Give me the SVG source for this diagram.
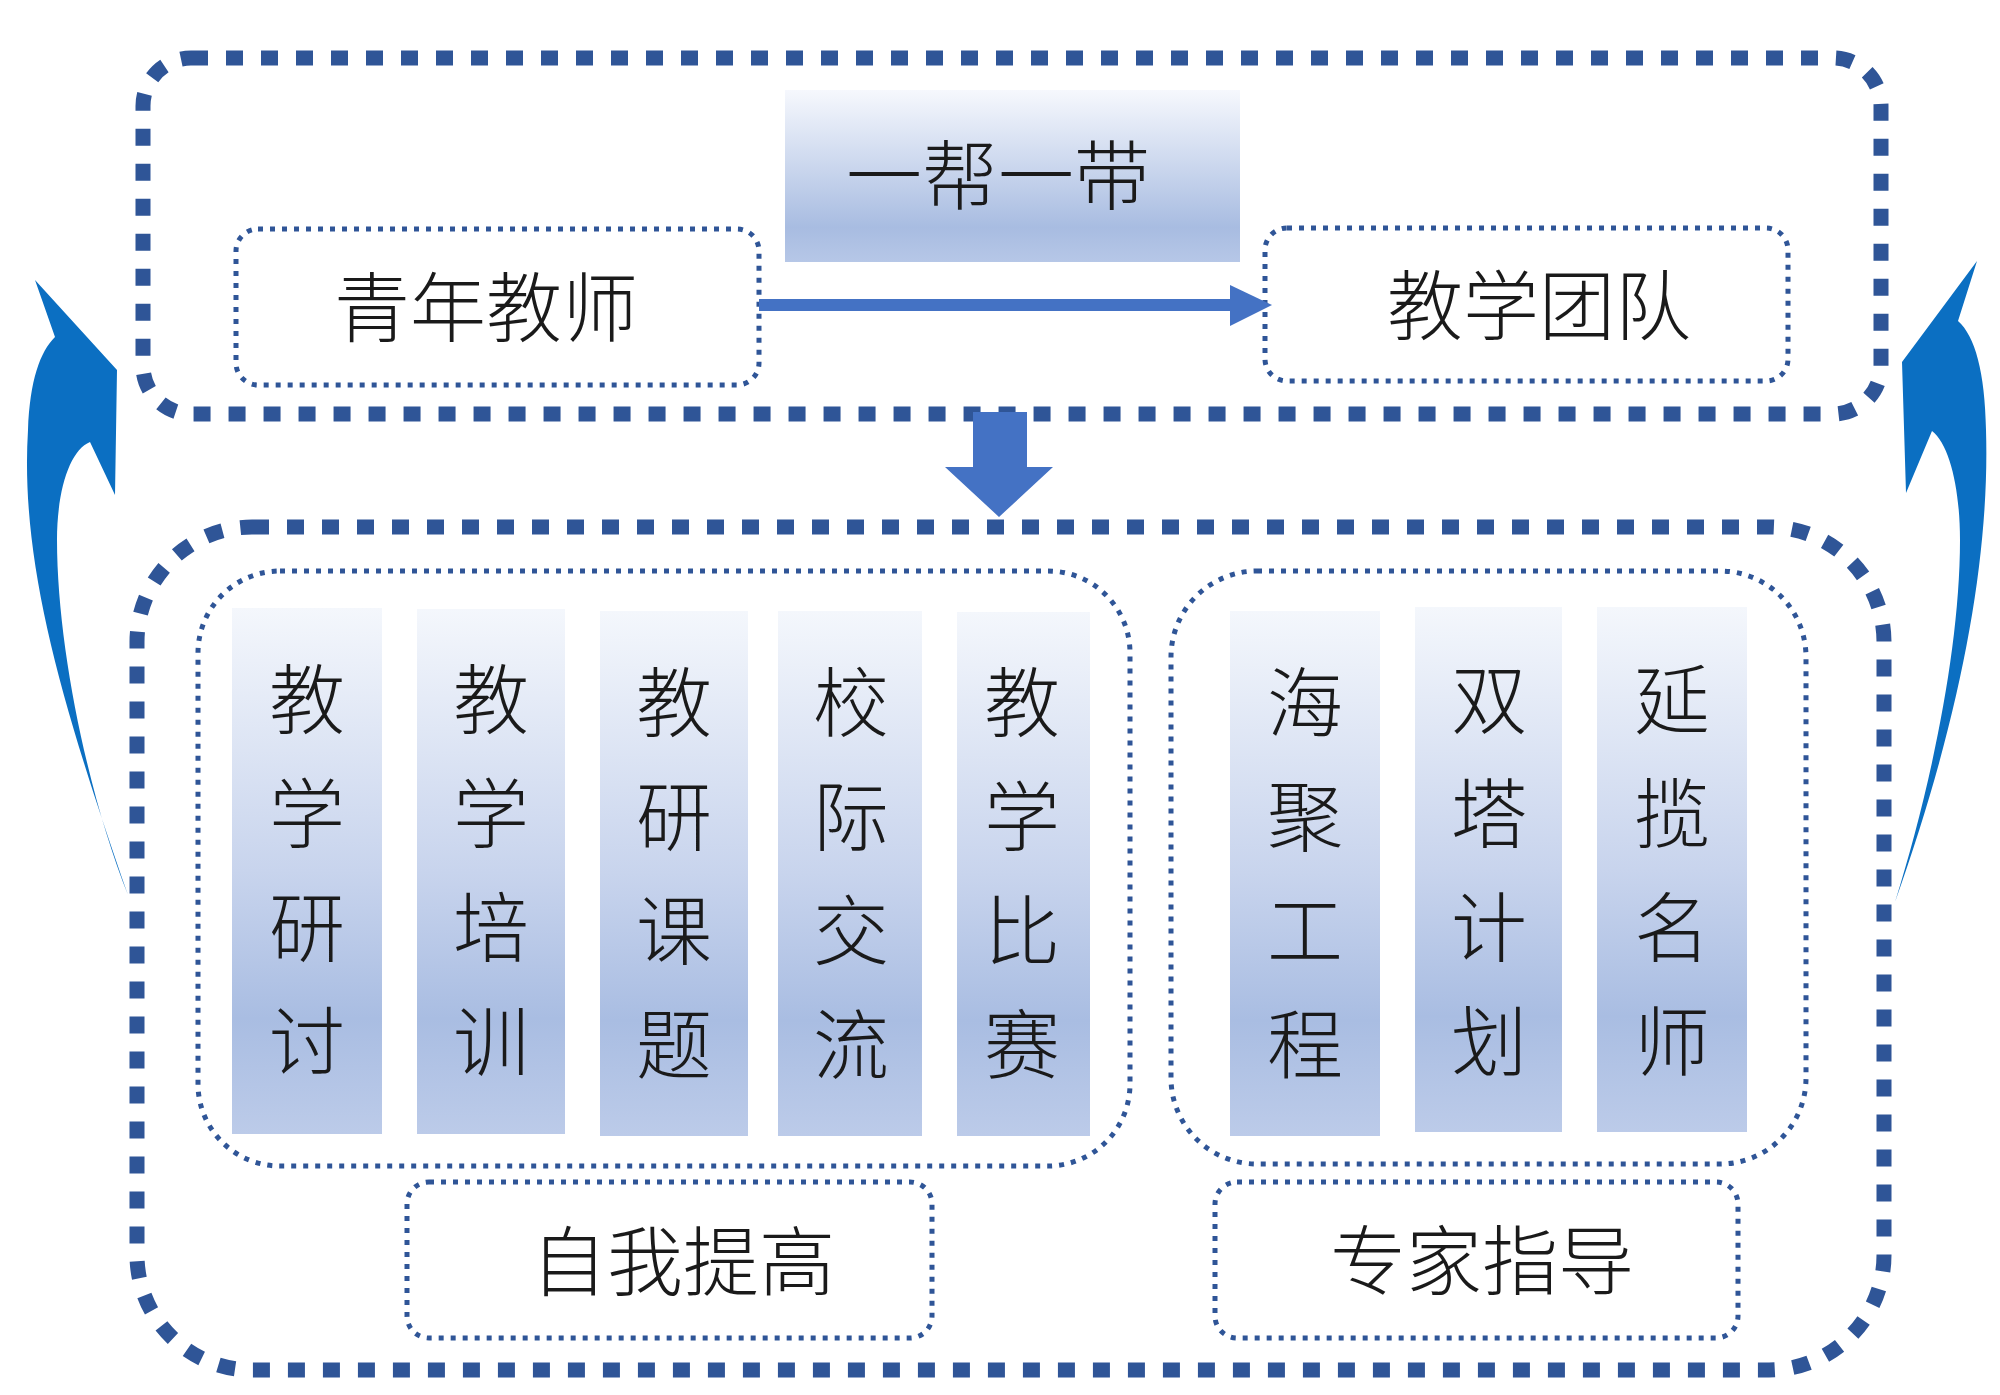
<svg xmlns="http://www.w3.org/2000/svg" width="2000" height="1395" viewBox="0 0 2000 1395">
  <defs>
    <linearGradient id="gCol" x1="0" y1="0" x2="0" y2="1">
      <stop offset="0" stop-color="#f4f7fc"/>
      <stop offset="0.5" stop-color="#c8d4ed"/>
      <stop offset="0.78" stop-color="#a9bde2"/>
      <stop offset="1" stop-color="#bccbe9"/>
    </linearGradient>
    <linearGradient id="gTop" x1="0" y1="0" x2="0" y2="1">
      <stop offset="0" stop-color="#f6f8fd"/>
      <stop offset="0.8" stop-color="#a8bce1"/>
      <stop offset="1" stop-color="#b6c7e7"/>
    </linearGradient>
    <style>
      .thick { fill: none; stroke: #2f5597; stroke-width: 15; stroke-dasharray: 17 18; }
      .thin { fill: none; stroke: #2f5597; stroke-width: 5; stroke-dasharray: 5 7; }
      .col { fill: url(#gCol); }
      .lbl { font-family: "Noto Sans CJK SC", "Noto Sans CJK JP", sans-serif; font-weight: 300; font-size: 76px; fill: #1a1a1a; text-anchor: middle; dominant-baseline: central; }
      .blue { fill: #4472c4; }
      .curve { fill: #0b6fc2; }
    </style>
  </defs>

  <rect width="2000" height="1395" fill="#ffffff"/>

  <!-- Top frame -->
  <g id="top-frame">
    <rect class="thick" x="143" y="58" width="1738" height="356" rx="48" ry="48"/>
  </g>

  <g id="node-yibangyidai">
    <rect x="785" y="90" width="455" height="172" fill="url(#gTop)"/>
    <text class="lbl" x="998" y="171">一帮一带</text>
  </g>

  <g id="node-qingnian">
    <rect class="thin" x="236" y="229" width="523" height="156" rx="22" ry="22"/>
    <text class="lbl" x="486" y="303">青年教师</text>
  </g>

  <g id="node-tuandui">
    <rect class="thin" x="1265" y="228" width="523" height="153" rx="22" ry="22"/>
    <text class="lbl" x="1539" y="301">教学团队</text>
  </g>

  <!-- Bottom frame -->
  <g id="bottom-frame">
    <rect class="thick" x="137" y="527" width="1747" height="843" rx="115" ry="115"/>
  </g>

  <g id="group-ziwo">
    <rect class="thin" x="198" y="571" width="932" height="595" rx="82" ry="82"/>
    <rect class="col" x="232" y="608" width="150" height="526"/>
    <rect class="col" x="417" y="609" width="148" height="525"/>
    <rect class="col" x="600" y="611" width="148" height="525"/>
    <rect class="col" x="778" y="611" width="144" height="525"/>
    <rect class="col" x="957" y="612" width="133" height="524"/>
    <text class="lbl" x="307"><tspan x="307" y="695">教</tspan><tspan x="307" y="809">学</tspan><tspan x="307" y="923">研</tspan><tspan x="307" y="1037">讨</tspan></text>
    <text class="lbl" x="491"><tspan x="491" y="695">教</tspan><tspan x="491" y="809">学</tspan><tspan x="491" y="923">培</tspan><tspan x="491" y="1037">训</tspan></text>
    <text class="lbl" x="674"><tspan x="674" y="698">教</tspan><tspan x="674" y="812">研</tspan><tspan x="674" y="926">课</tspan><tspan x="674" y="1040">题</tspan></text>
    <text class="lbl" x="851"><tspan x="851" y="698">校</tspan><tspan x="851" y="812">际</tspan><tspan x="851" y="926">交</tspan><tspan x="851" y="1040">流</tspan></text>
    <text class="lbl" x="1022"><tspan x="1022" y="698">教</tspan><tspan x="1022" y="812">学</tspan><tspan x="1022" y="926">比</tspan><tspan x="1022" y="1040">赛</tspan></text>
  </g>

  <g id="group-zhuanjia">
    <rect class="thin" x="1171" y="571" width="635" height="593" rx="86" ry="86"/>
    <rect class="col" x="1230" y="611" width="150" height="525"/>
    <rect class="col" x="1415" y="607" width="147" height="525"/>
    <rect class="col" x="1597" y="607" width="150" height="525"/>
    <text class="lbl" x="1305"><tspan x="1305" y="698">海</tspan><tspan x="1305" y="812">聚</tspan><tspan x="1305" y="926">工</tspan><tspan x="1305" y="1040">程</tspan></text>
    <text class="lbl" x="1489"><tspan x="1489" y="695">双</tspan><tspan x="1489" y="809">塔</tspan><tspan x="1489" y="923">计</tspan><tspan x="1489" y="1037">划</tspan></text>
    <text class="lbl" x="1672"><tspan x="1672" y="695">延</tspan><tspan x="1672" y="809">揽</tspan><tspan x="1672" y="923">名</tspan><tspan x="1672" y="1037">师</tspan></text>
  </g>

  <g id="node-ziwotigao">
    <rect class="thin" x="407" y="1182" width="525" height="156" rx="22" ry="22"/>
    <text class="lbl" x="683" y="1257">自我提高</text>
  </g>

  <g id="node-zhuanjiazhidao">
    <rect class="thin" x="1215" y="1182" width="523" height="156" rx="22" ry="22"/>
    <text class="lbl" x="1482" y="1256">专家指导</text>
  </g>

  <!-- Connectors -->
  <g id="connectors">
    <line x1="759" y1="305" x2="1234" y2="305" stroke="#4472c4" stroke-width="12"/>
    <polygon class="blue" points="1230,285 1272,305 1230,326"/>
    <polygon class="blue" points="973,412 1027,412 1027,467 1053,467 999,517 945,467 973,467"/>
    <path class="curve" d="M128,895 C60,700 20,560 28,430 C30,380 40,352 55,337 L35,280 L117,370 L115,495 L90,442 C70,450 57,490 57,540 C57,650 90,800 128,895 Z"/>
    <path class="curve" d="M1895,902 C1960,720 1990,560 1986,430 C1985,372 1975,336 1958,321 L1977,261 L1902,362 L1906,493 L1932,431 C1950,445 1960,490 1960,540 C1960,650 1930,790 1895,902 Z"/>
  </g>
</svg>
